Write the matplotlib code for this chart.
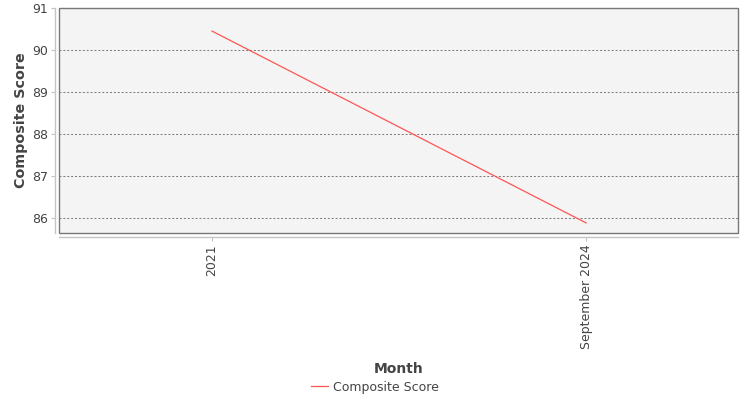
import numpy as np
import matplotlib.pyplot as plt
from matplotlib.lines import Line2D

months = ['2021', 'September 2024']
scores = [90.45, 85.88]
series_name = 'Composite Score'

fig = plt.figure(figsize=(7.5, 4), dpi=100)
ax = fig.add_axes([59 / 750, 1 - 233 / 400, 679 / 750, 225 / 400])

x = np.arange(len(months))
ax.plot(x, scores, color='#ff5555', linewidth=0.9)

ax.set_facecolor('#f4f4f4')
ax.patch.set_edgecolor('#777777')
ax.patch.set_linewidth(1.0)

ax.set_xlim(-0.409, 1.406)
ax.set_ylim(85.64, 91)
ax.set_yticks([86, 87, 88, 89, 90, 91])
ax.set_xticks(x)
ax.set_xticklabels(months)

ax.yaxis.grid(True, linestyle=(0, (2, 2)), color='#777777', linewidth=0.7)
ax.set_axisbelow(True)

for s in ['top', 'right']:
    ax.spines[s].set_visible(False)
for s in ['left', 'bottom']:
    ax.spines[s].set_position(('outward', 3))
    ax.spines[s].set_color('#c4c4c4')
    ax.spines[s].set_linewidth(1.0)

ax.tick_params(axis='both', colors='#c4c4c4', labelcolor='#444444',
               labelsize=9, length=3, width=0.8, pad=2)
ax.tick_params(axis='x', labelrotation=90)

ax.set_ylabel('Composite Score', fontsize=10.3, color='#444444',
              fontweight='bold', labelpad=3)
ax.set_xlabel('Month', fontsize=10, color='#444444', fontweight='bold')
ax.xaxis.set_label_coords(0.5, -0.575)

handle = Line2D([], [], color='#ff5555', linewidth=0.9)
fig.legend([handle], [series_name], loc='center', bbox_to_anchor=(0.5, 1 - 387 / 400),
           frameon=False, fontsize=9, handlelength=1.4, handletextpad=0.4,
           labelcolor='#444444')

fig.savefig('out.png', dpi=100)
